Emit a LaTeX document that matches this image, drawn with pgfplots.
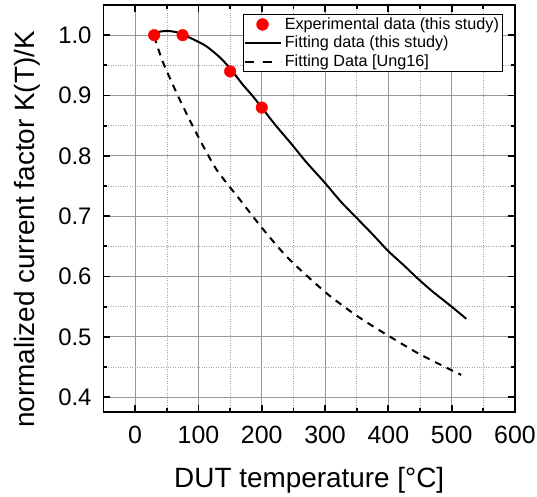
\documentclass[border=0pt]{standalone}
\usepackage{pgfplots}
\pgfplotsset{compat=1.18}
\usepackage{fontspec}
\setmainfont{Liberation Sans}
\begin{document}
\begin{tikzpicture}
\useasboundingbox (-103.5bp,-84.7bp) rectangle (433.5bp,412.3bp);
\begin{axis}[
  scale only axis, width=411.5bp, height=407.3bp,
  xmin=-50, xmax=600, ymin=0.375, ymax=1.05,
  xtick={0,100,200,300,400,500,600},
  ytick={0.4,0.5,0.6,0.7,0.8,0.9,1.0},
  minor x tick num=1, minor y tick num=1,
  grid=both,
  major grid style={black!40, line width=0.8bp},
  minor grid style={black!35, dotted, line width=0.6bp},
  tick align=inside,
  major tick length=7bp, minor tick length=4bp,
  every tick/.style={black, line width=1.8bp},
  axis line style={line width=1.8bp},
  /pgf/number format/assume math mode=true,
  xticklabel style={font=\fontsize{25}{30}\selectfont, anchor=base, inner sep=0pt, yshift=-31bp},
  yticklabel style={font=\fontsize{24}{29}\selectfont, anchor=east, inner sep=0pt, xshift=-11.8bp,
    /pgf/number format/.cd, fixed, fixed zerofill, precision=1},
  xlabel={DUT temperature [°C]},
  ylabel={normalized current factor K(T)/K},
  xlabel style={font=\fontsize{28}{33}\selectfont, at={(rel axis cs:0.5,0)}, anchor=base, inner sep=0pt, yshift=-75bp},
  ylabel style={font=\fontsize{28}{33}\selectfont, at={(rel axis cs:0,0.449)}, anchor=base, inner sep=0pt, yshift=68.5bp},
  legend style={at={(1,1)}, anchor=north east, xshift=-12.3bp, yshift=-9bp,
    draw=black, line width=0.8bp, font=\fontsize{16.25}{19}\selectfont,
    cells={anchor=west}, inner xsep=0bp, inner ysep=1.5bp,
    nodes={inner xsep=3.3bp, inner ysep=1.6bp, text depth=0.22em}, row sep=1.5bp},
  legend image code/.code={\draw[mark repeat=2,mark phase=2,#1] plot coordinates {(0bp,0bp) (18bp,0bp) (36bp,0bp)};},
]
\addlegendimage{only marks, mark=*, mark size=5.8bp, red, mark options={draw=red, fill=red}}
\addlegendentry{Experimental data (this study)}
\addlegendimage{black, line width=2bp}
\addlegendentry{Fitting data (this study)}
\addlegendimage{black, line width=2bp, dash pattern=on 9bp off 9bp}
\addlegendentry{Fitting Data [Ung16]}

\addplot[forget plot, black, line width=2bp, smooth, tension=0.4] coordinates {
(30,1.002) (40,1.006) (52,1.007) (65,1.005) (75,1.001) (90,0.994) (112,0.982)
(134,0.963) (150,0.945) (170,0.918) (185,0.900) (200,0.880) (220,0.853)
(245,0.822) (270,0.790) (300,0.755) (325,0.724) (350,0.697) (375,0.670)
(400,0.642) (425,0.618) (445,0.598) (470,0.575) (500,0.550) (523,0.530)
};
\addplot[forget plot, black, line width=2bp, dash pattern=on 7bp off 6bp, smooth, tension=0.4] coordinates {
(30,0.998) (44,0.955) (70,0.894) (99,0.833) (128,0.778) (165,0.728) (200,0.681)
(234,0.639) (260,0.612) (305,0.570) (350,0.535) (392,0.507) (450,0.471) (515,0.437)
};
\addplot[forget plot, only marks, mark=*, mark size=5.8bp, red, mark options={draw=red, fill=red}] coordinates {
(30,1.0) (75,1.0) (150,0.94) (200,0.88)
};
\end{axis}
\end{tikzpicture}
\end{document}
